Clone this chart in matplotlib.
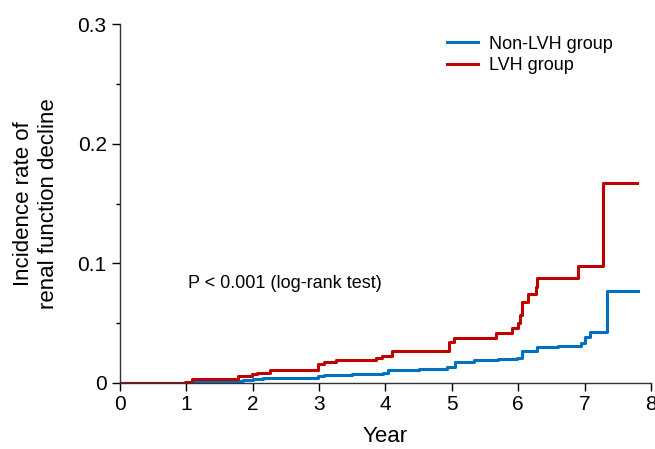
import matplotlib
matplotlib.use("Agg")
import matplotlib.pyplot as plt
from matplotlib.ticker import MultipleLocator

plt.rcParams['font.family'] = ['Liberation Sans', 'DejaVu Sans']

# cumulative incidence (step curves)
lvh_t = [0, 0.98, 1.08, 1.78, 1.99, 2.06, 2.26, 2.99, 3.08, 3.26, 3.85, 3.95, 4.10,
         4.95, 5.03, 5.66, 5.91, 6.00, 6.03, 6.06, 6.15, 6.27, 6.28, 6.90, 7.28, 7.79]
lvh_v = [0, 0.0012, 0.0036, 0.0055, 0.0078, 0.0086, 0.0106, 0.016, 0.0178, 0.019, 0.0206, 0.0225, 0.0267,
         0.0345, 0.038, 0.0415, 0.046, 0.050, 0.057, 0.0674, 0.0743, 0.0805, 0.088, 0.0978, 0.1668, 0.1668]

nonlvh_t = [0, 1.03, 1.1, 1.5, 1.86, 2.0, 2.16, 2.6, 2.99, 3.07, 3.5, 3.97, 4.04, 4.5,
            4.92, 5.05, 5.33, 5.7, 5.98, 6.06, 6.28, 6.6, 6.94, 7.01, 7.08, 7.33, 7.81]
nonlvh_v = [0, 0.0005, 0.001, 0.0015, 0.0028, 0.0036, 0.004, 0.0045, 0.0056, 0.0064, 0.0072, 0.0086, 0.0106, 0.0115,
            0.0136, 0.0173, 0.0192, 0.0202, 0.0212, 0.027, 0.0298, 0.031, 0.0331, 0.0387, 0.0426, 0.0769, 0.0769]

fig = plt.figure(figsize=(6.55, 4.49), dpi=100)
ax = fig.add_axes([0.183, 0.147, 0.811, 0.7995])

ax.step(nonlvh_t, nonlvh_v, where='post', color='#0070C0', lw=2.2, label='Non-LVH group')
ax.step(lvh_t, lvh_v, where='post', color='#C00000', lw=2.2, label='LVH group')

ax.set_xlim(0, 8)
ax.set_ylim(0, 0.3)
ax.set_xticks(range(0, 9))
ax.set_yticks([0, 0.1, 0.2, 0.3])
ax.set_yticklabels(['0', '0.1', '0.2', '0.3'])
ax.yaxis.set_minor_locator(MultipleLocator(0.05))
ax.tick_params(axis='both', which='major', labelsize=15, length=5.5, width=1, direction='out')
ax.tick_params(axis='x', pad=3)
ax.tick_params(axis='y', pad=4)
ax.tick_params(axis='y', which='minor', length=3, width=1)
for s in ['top', 'right']:
    ax.spines[s].set_visible(False)
for s in ['left', 'bottom']:
    ax.spines[s].set_linewidth(1)
    ax.spines[s].set_color('#333333')

ax.set_xlabel('Year', fontsize=16, labelpad=9)
ax.set_ylabel('Incidence rate of\nrenal function decline', fontsize=16, labelpad=13, linespacing=1.25)

ax.text(1.03, 0.083, 'P < 0.001 (log-rank test)', fontsize=13, va='center', ha='left')

ax.legend(loc='upper left', bbox_to_anchor=(0.616, 0.968), frameon=False, fontsize=13,
          handlelength=1.7, handletextpad=0.6, borderpad=0, borderaxespad=0, labelspacing=0.25)

fig.savefig('out.png', dpi=100)
